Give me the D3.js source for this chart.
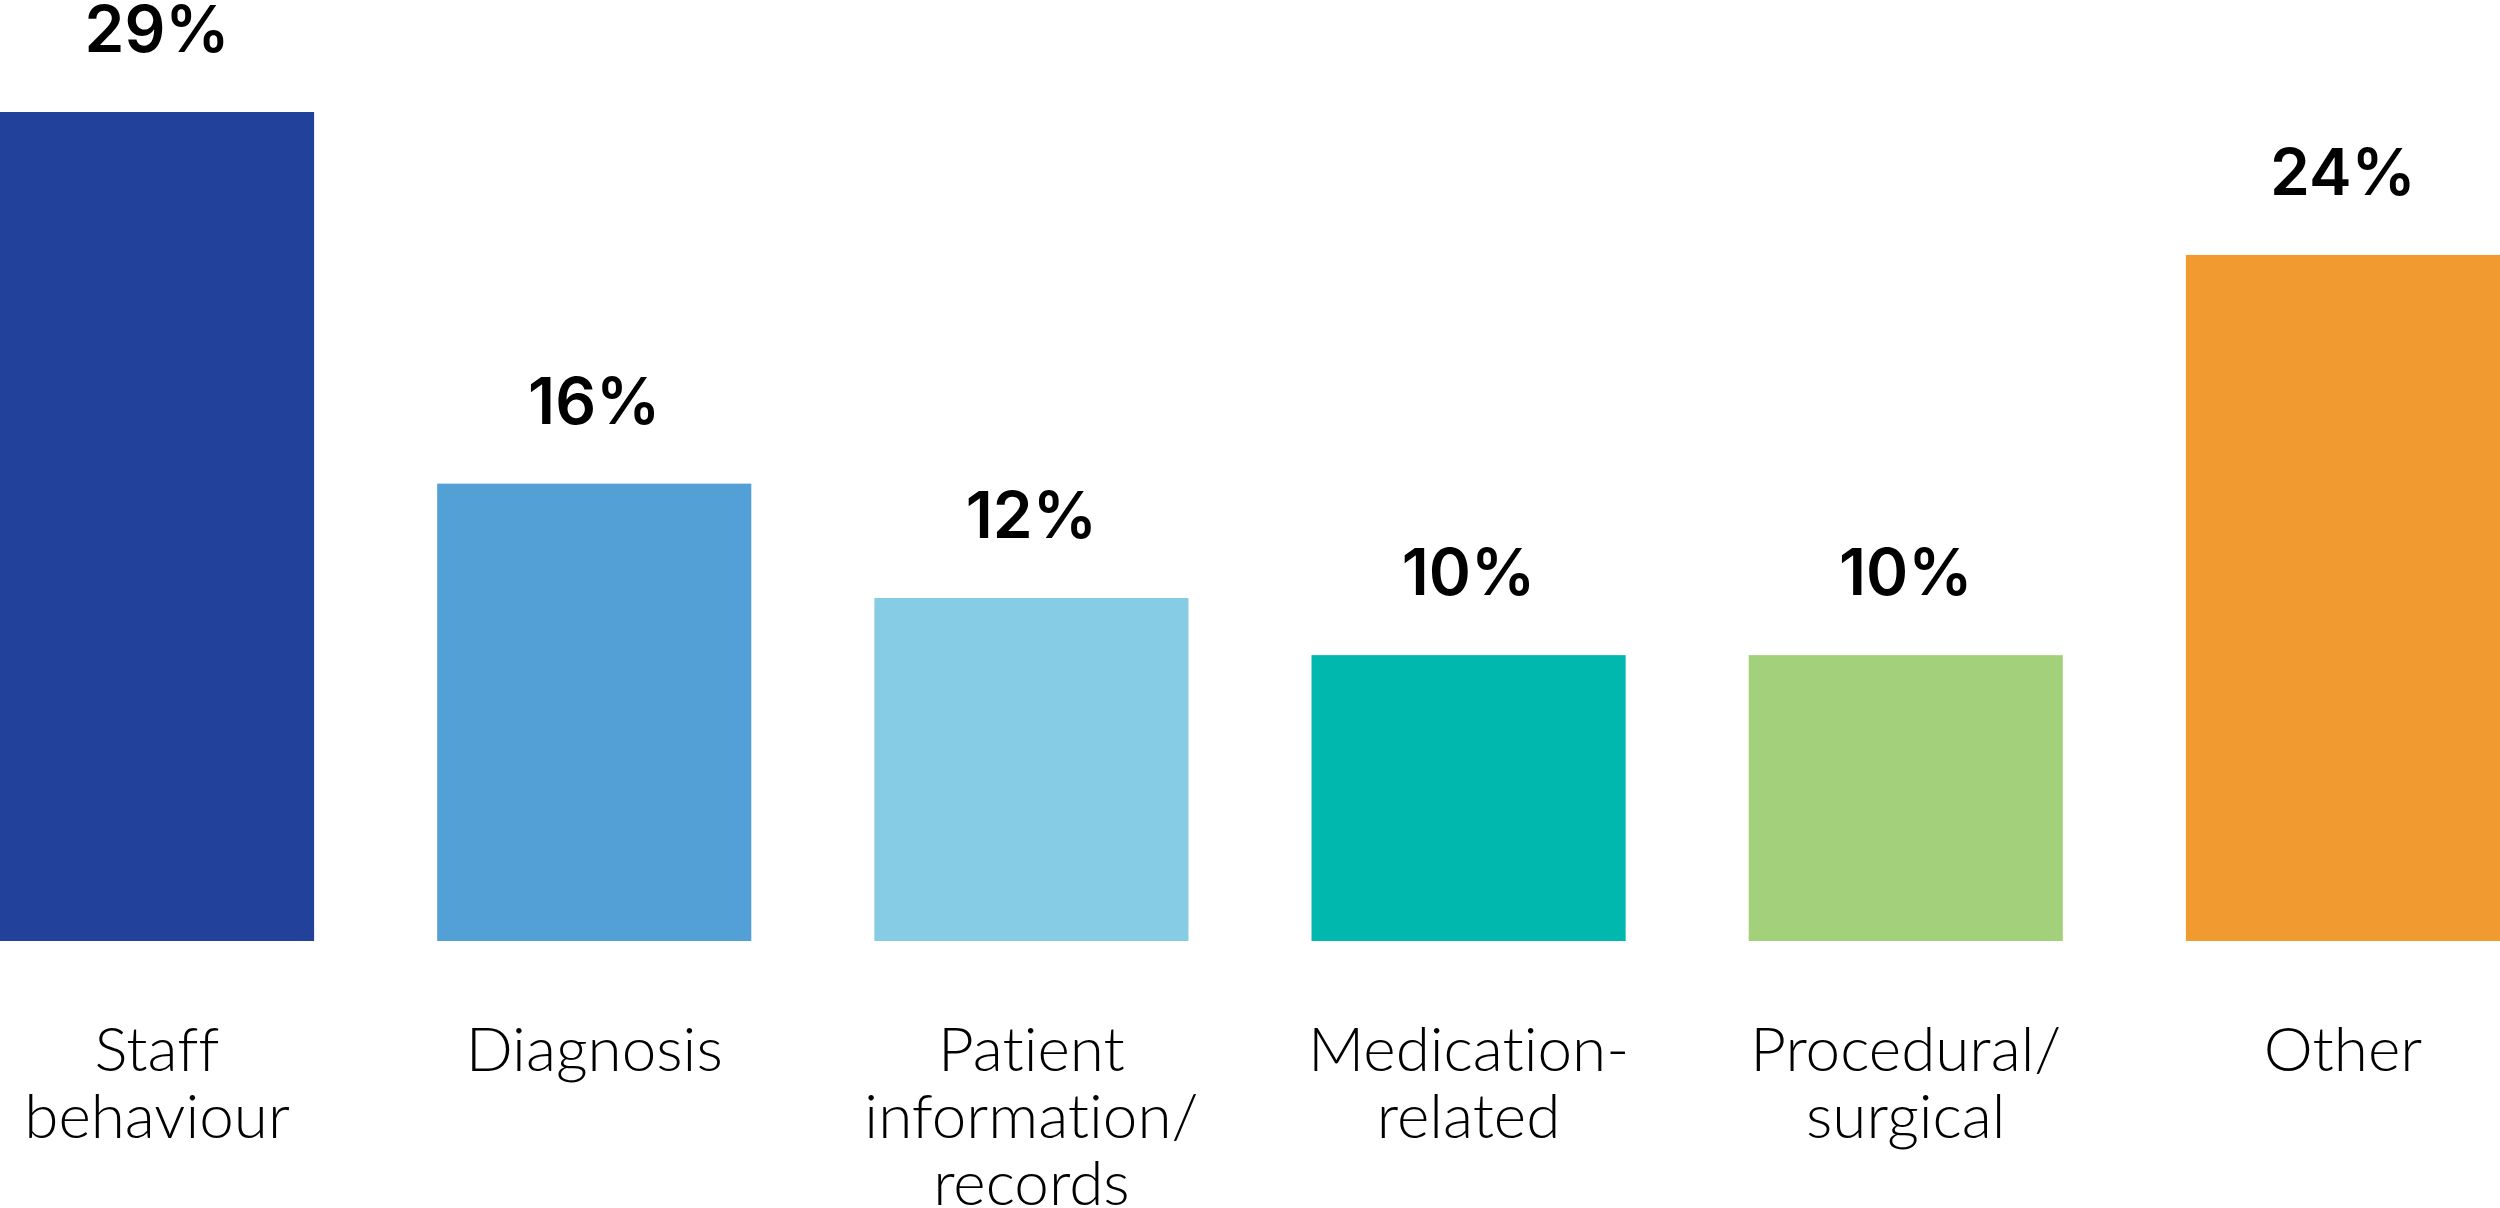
<!DOCTYPE html>
<html>
<head>
<meta charset="utf-8">
<script src="https://cdn.jsdelivr.net/npm/d3@7"></script>
<style>
  html, body { margin: 0; padding: 0; background: #ffffff; }
  svg { display: block; }
  text { font-variant-ligatures: none; font-feature-settings: "liga" 0, "clig" 0; }
</style>
</head>
<body>
<svg id="chart" width="2500" height="1208"></svg>
<script>
const categories = [
  ["Staff", "behaviour"],
  ["Diagnosis"],
  ["Patient", "information/", "records"],
  ["Medication-", "related"],
  ["Procedural/", "surgical"],
  ["Other"]
];
const values = [29, 16, 12, 10, 10, 24];
const valueLabels = ["29%", "16%", "12%", "10%", "10%", "24%"];
const colors = ["#22419A", "#52A0D6", "#86CCE4", "#00B8AE", "#A3D07A", "#F09A30"];

const W = 2500, H = 1208;
const baseY = 941;
const svg = d3.select("#chart");

const keys = categories.map((c, i) => i);
const x = d3.scaleBand().domain(keys).range([0, W]).paddingInner(0.2815).paddingOuter(0);
const y = d3.scaleLinear().domain([0, 29]).range([baseY, 112]);

svg.selectAll("rect.bar").data(values).join("rect")
  .attr("class", "bar")
  .attr("x", (d, i) => x(i))
  .attr("width", x.bandwidth())
  .attr("y", d => y(d))
  .attr("height", d => y(0) - y(d))
  .attr("fill", (d, i) => colors[i]);

svg.selectAll("text.val").data(values).join("text")
  .attr("class", "val")
  .attr("x", (d, i) => x(i) + x.bandwidth() / 2)
  .attr("y", d => y(d) - 60)
  .attr("text-anchor", "middle")
  .attr("font-family", "Inter, 'Liberation Sans', Arial, sans-serif")
  .attr("font-weight", 600)
  .attr("font-size", 64)
  .attr("fill", "#000")
  .text((d, i) => valueLabels[i]);

const cat = svg.selectAll("text.cat").data(categories).join("text")
  .attr("class", "cat")
  .attr("x", (d, i) => x(i) + x.bandwidth() / 2)
  .attr("y", 1071)
  .attr("text-anchor", "middle")
  .attr("font-family", "Lato, 'Open Sans', sans-serif")
  .attr("font-weight", 300)
  .attr("font-size", 62)
  .attr("fill", "#000");
cat.selectAll("tspan").data((d, i) => d.map(t => ({ t, i }))).join("tspan")
  .attr("x", d => x(d.i) + x.bandwidth() / 2)
  .attr("dy", (d, j) => j === 0 ? 0 : 67)
  .text(d => d.t);
</script>
</body>
</html>
